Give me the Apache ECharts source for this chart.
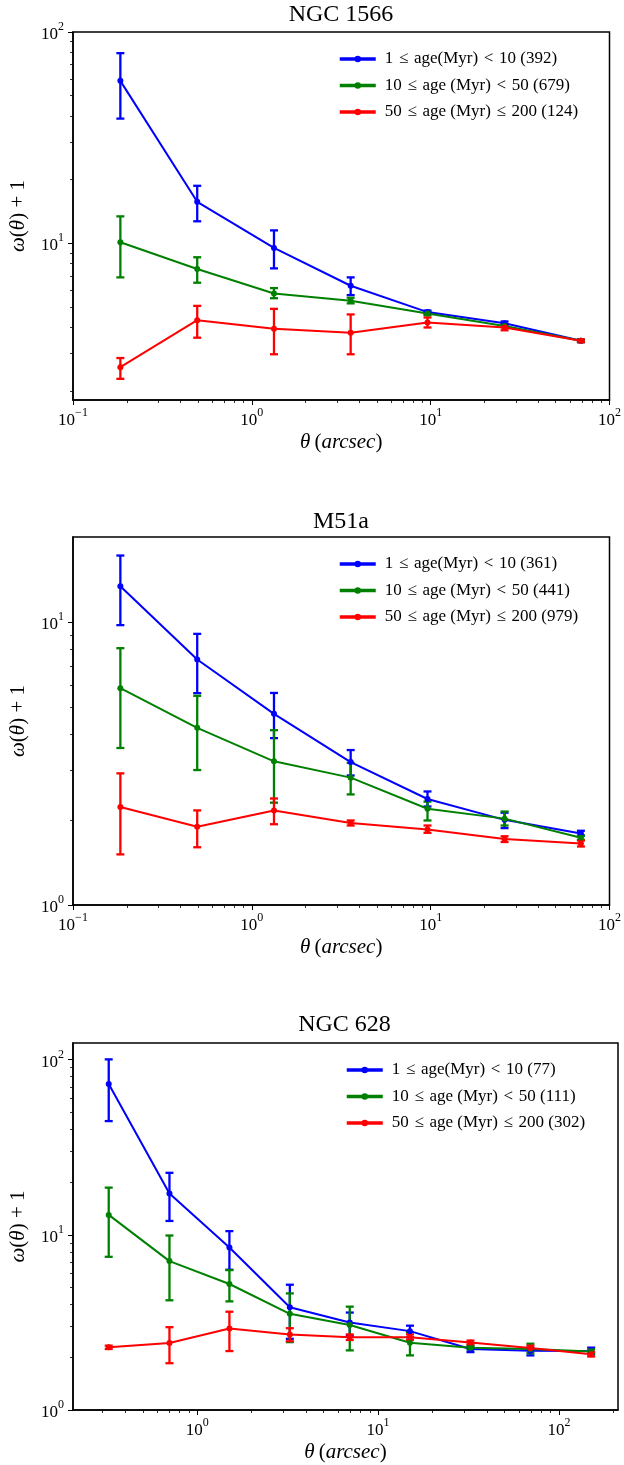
<!DOCTYPE html>
<html>
<head>
<meta charset="utf-8">
<script src="https://cdn.jsdelivr.net/npm/echarts@6/dist/echarts.min.js"></script>
<style>
  html, body { margin: 0; padding: 0; background: #fff; }
  #chart { width: 624px; height: 1465px; }
</style>
</head>
<body>
<div id="chart"></div>
<script>
// Angular two-point correlation, w(theta)+1, by cluster age bin

// --- NGC 1566 ---
const theta1 = [0.184, 0.495, 1.33, 3.57, 9.6, 25.9, 69.2];
const blue1 = [58.7, 15.7, 9.5, 6.29, 4.72, 4.18, 3.45];
const blue1Lo = [38.9, 12.7, 7.6, 5.68, 4.63, 4.10, 3.40];
const blue1Hi = [79.4, 18.7, 11.5, 6.89, 4.80, 4.26, 3.50];
const green1 = [10.1, 7.55, 5.78, 5.34, 4.65, 4.06, 3.45];
const green1Lo = [6.89, 6.50, 5.49, 5.19, 4.56, 4.00, 3.41];
const green1Hi = [13.4, 8.58, 6.13, 5.52, 4.74, 4.12, 3.49];
const red1 = [2.59, 4.32, 3.94, 3.77, 4.21, 3.99, 3.45];
const red1Lo = [2.28, 3.57, 2.98, 2.98, 3.99, 3.87, 3.40];
const red1Hi = [2.86, 5.05, 4.89, 4.60, 4.45, 4.12, 3.50];
const names1 = ['1 \u2264 age(Myr) < 10 (392)', '10 \u2264 age (Myr) < 50 (679)', '50 \u2264 age (Myr) \u2264 200 (124)'];

// --- M51a ---
const theta2 = [0.184, 0.495, 1.33, 3.57, 9.6, 25.9, 69.2];
const blue2 = [13.4, 7.38, 4.74, 3.20, 2.37, 2.00, 1.79];
const blue2Lo = [9.76, 5.61, 3.89, 2.87, 2.23, 1.87, 1.76];
const blue2Hi = [17.2, 9.09, 5.62, 3.53, 2.52, 2.12, 1.83];
const green2 = [5.84, 4.23, 3.22, 2.82, 2.19, 2.02, 1.73];
const green2Lo = [3.59, 3.00, 2.30, 2.46, 1.99, 1.91, 1.70];
const green2Hi = [8.09, 5.49, 4.15, 3.18, 2.32, 2.14, 1.76];
const red2 = [2.22, 1.89, 2.16, 1.95, 1.85, 1.71, 1.65];
const red2Lo = [1.51, 1.60, 1.93, 1.91, 1.80, 1.67, 1.61];
const red2Hi = [2.92, 2.16, 2.38, 1.99, 1.91, 1.75, 1.69];
const names2 = ['1 \u2264 age(Myr) < 10 (361)', '10 \u2264 age (Myr) < 50 (441)', '50 \u2264 age (Myr) \u2264 200 (979)'];

// --- NGC 628 ---
const theta3 = [0.324, 0.702, 1.506, 3.25, 6.97, 15.0, 32.4, 69.5, 150.6];
const blue3 = [72.7, 17.2, 8.47, 3.86, 3.16, 2.82, 2.23, 2.18, 2.17];
const blue3Lo = [44.6, 12.0, 6.32, 2.55, 2.65, 2.60, 2.14, 2.05, 2.08];
const blue3Hi = [100.4, 22.6, 10.5, 5.19, 3.60, 3.03, 2.30, 2.27, 2.27];
const green3 = [13.0, 7.08, 5.24, 3.54, 3.06, 2.42, 2.27, 2.23, 2.16];
const green3Lo = [7.49, 4.23, 4.17, 2.44, 2.19, 2.05, 2.21, 2.11, 2.10];
const green3Hi = [18.6, 9.91, 6.29, 4.63, 3.89, 2.78, 2.33, 2.39, 2.22];
const red3 = [2.28, 2.41, 2.92, 2.70, 2.60, 2.60, 2.43, 2.26, 2.08];
const red3Lo = [2.23, 1.85, 2.17, 2.47, 2.51, 2.51, 2.37, 2.20, 2.02];
const red3Hi = [2.33, 2.97, 3.64, 2.93, 2.70, 2.70, 2.49, 2.33, 2.15];
const names3 = ['1 \u2264 age(Myr) < 10 (77)', '10 \u2264 age (Myr) < 50 (111)', '50 \u2264 age (Myr) \u2264 200 (302)'];

const titles = ['NGC 1566', 'M51a', 'NGC 628'];
const colors = ['#0000ff', '#008000', '#ff0000'];

// axis ranges
const xRanges = [[0.1, 100], [0.1, 100], [0.2056, 212]];
const yRanges = [[1.81, 100], [1, 20], [1, 124.5]];

const FONT = '"Liberation Serif", "DejaVu Serif", serif';

const panels = [
  { theta: theta1, names: names1, vals: [blue1, green1, red1], lo: [blue1Lo, green1Lo, red1Lo], hi: [blue1Hi, green1Hi, red1Hi],
    grid: { left: 71, top: 32, width: 540, height: 368 }, titleY: 15, legendLeft: 333 },
  { theta: theta2, names: names2, vals: [blue2, green2, red2], lo: [blue2Lo, green2Lo, red2Lo], hi: [blue2Hi, green2Hi, red2Hi],
    grid: { left: 71, top: 537, width: 540, height: 368 }, titleY: 522, legendLeft: 333 },
  { theta: theta3, names: names3, vals: [blue3, green3, red3], lo: [blue3Lo, green3Lo, red3Lo], hi: [blue3Hi, green3Hi, red3Hi],
    grid: { left: 71, top: 1043, width: 547, height: 367 }, titleY: 1025, legendLeft: 340 }
];

// decade ticks and 2..9 minor ticks inside a range
function majorTicks(r) {
  const out = [];
  for (let e = -3; e <= 4; e++) {
    const v = Math.pow(10, e);
    if (v >= r[0] * 0.9999 && v <= r[1] * 1.0001) out.push(v);
  }
  return out;
}
function minorTicks(r) {
  const out = [];
  for (let e = -3; e <= 4; e++) {
    for (let m = 2; m <= 9; m++) {
      const v = m * Math.pow(10, e);
      if (v > r[0] && v < r[1]) out.push(+v.toPrecision(6));
    }
  }
  return out;
}
function powLabel(v) {
  const e = Math.round(Math.log10(v));
  return '{b|10}{s|' + (e < 0 ? '\u2212' + (-e) : e) + '}';
}
const tickRich = {
  b: { fontFamily: FONT, fontSize: 17, color: '#000', verticalAlign: 'bottom', lineHeight: 22 },
  s: { fontFamily: FONT, fontSize: 12, color: '#000', verticalAlign: 'top', lineHeight: 22 }
};
const nameRich = {
  i: { fontFamily: FONT, fontStyle: 'italic', fontSize: 21, color: '#000' },
  r: { fontFamily: FONT, fontSize: 21, color: '#000' }
};

// vertical error bar with caps
function errRender(params, api) {
  const x = api.value(0);
  const pLo = api.coord([x, api.value(1)]);
  const pHi = api.coord([x, api.value(2)]);
  const cap = 4;
  const style = { stroke: api.visual('color'), lineWidth: 2.3 };
  return {
    type: 'group',
    children: [
      { type: 'line', shape: { x1: pLo[0], y1: pLo[1], x2: pHi[0], y2: pHi[1] }, style },
      { type: 'line', shape: { x1: pLo[0] - cap, y1: pLo[1], x2: pLo[0] + cap, y2: pLo[1] }, style },
      { type: 'line', shape: { x1: pHi[0] - cap, y1: pHi[1], x2: pHi[0] + cap, y2: pHi[1] }, style }
    ]
  };
}

const option = {
  animation: false,
  backgroundColor: '#fff',
  grid: [], xAxis: [], yAxis: [], series: [], legend: [], graphic: []
};

panels.forEach((p, i) => {
  option.grid.push(Object.assign({ show: true, borderColor: '#000', borderWidth: 1.5, backgroundColor: 'transparent' }, p.grid));
  const xr = xRanges[i], yr = yRanges[i];
  // decade x axis
  option.xAxis.push({
    type: 'log', gridIndex: i, min: xr[0], max: xr[1], position: 'bottom',
    name: '{i|θ}\u2004{r|(}{i|arcsec}{r|)}', nameLocation: 'middle', nameGap: 32,
    nameTextStyle: { rich: nameRich },
    axisLine: { show: true, lineStyle: { color: '#000', width: 1.5 } },
    axisTick: { show: true, inside: false, length: 5, customValues: majorTicks(xr), lineStyle: { color: '#000', width: 1 } },
    axisLabel: { show: true, customValues: majorTicks(xr), margin: 7, formatter: powLabel, rich: tickRich },
    splitLine: { show: false }
  });
  // minor x ticks
  option.xAxis.push({
    type: 'log', gridIndex: i, min: xr[0], max: xr[1], position: 'bottom',
    axisLine: { show: false }, axisLabel: { show: false }, splitLine: { show: false },
    axisTick: { show: true, inside: false, length: 3, customValues: minorTicks(xr), lineStyle: { color: '#000', width: 0.8 } }
  });
  // decade y axis
  option.yAxis.push({
    type: 'log', gridIndex: i, min: yr[0], max: yr[1], position: 'left',
    name: '{i|ω}{r|(}{i|θ}{r|) + 1}', nameLocation: 'middle', nameGap: 44, nameRotate: 90,
    nameTextStyle: { rich: nameRich },
    axisLine: { show: true, lineStyle: { color: '#000', width: 1.5 } },
    axisTick: { show: true, inside: false, length: 5, customValues: majorTicks(yr), lineStyle: { color: '#000', width: 1 } },
    axisLabel: { show: true, customValues: majorTicks(yr), margin: 9, formatter: powLabel, rich: tickRich },
    splitLine: { show: false }
  });
  // minor y ticks
  option.yAxis.push({
    type: 'log', gridIndex: i, min: yr[0], max: yr[1], position: 'left',
    axisLine: { show: false }, axisLabel: { show: false }, splitLine: { show: false },
    axisTick: { show: true, inside: false, length: 3, customValues: minorTicks(yr), lineStyle: { color: '#000', width: 0.8 } }
  });

  const xIdx = 2 * i, yIdx = 2 * i;
  for (let k = 0; k < 3; k++) {
    option.series.push({
      type: 'line', name: p.names[k], xAxisIndex: xIdx, yAxisIndex: yIdx,
      data: p.theta.map((t, j) => [t, p.vals[k][j]]),
      color: colors[k], symbol: 'circle', symbolSize: 6, showSymbol: true,
      lineStyle: { width: 2, color: colors[k] }, itemStyle: { color: colors[k] },
      emphasis: { disabled: true }, silent: true
    });
    option.series.push({
      type: 'custom', name: p.names[k] + ' err', xAxisIndex: xIdx, yAxisIndex: yIdx,
      data: p.theta.map((t, j) => [t, p.lo[k][j], p.hi[k][j]]),
      encode: { x: 0, y: [1, 2] }, renderItem: errRender,
      itemStyle: { color: colors[k] }, silent: true
    });
  }

  option.legend.push({
    data: p.names, orient: 'vertical', left: p.legendLeft, top: p.grid.top + 13,
    itemWidth: 36, itemHeight: 8, itemGap: 8.5,
    lineStyle: { width: 3.5 },
    textStyle: { fontFamily: FONT, fontSize: 17, color: '#000', lineHeight: 18, padding: [0, 0, 0, 4] },
    formatter: function (name) { return name.replace(/ ([\u2264<]) /g, '\u2004$1\u2004'); },
    selectedMode: false
  });

  option.graphic.push({
    type: 'text', x: p.grid.left + p.grid.width / 2, y: p.titleY,
    style: { text: titles[i], fontFamily: FONT, fontSize: 24, fill: '#000', align: 'center', verticalAlign: 'middle' }
  });
});

const chart = echarts.init(document.getElementById('chart'), null, { renderer: 'canvas' });
chart.setOption(option);
</script>
</body>
</html>
